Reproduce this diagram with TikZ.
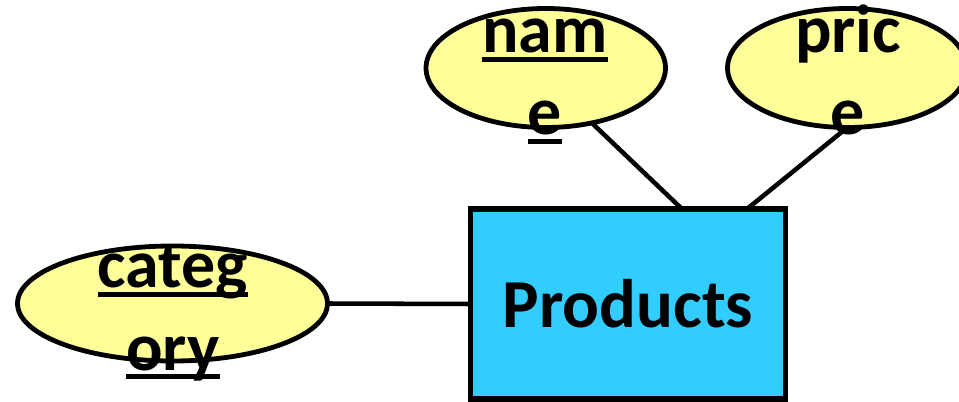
\documentclass[tikz,border=0pt]{standalone}
\usepackage{fontspec}
\setmainfont{Carlito}
\usetikzlibrary{shapes.geometric}
\definecolor{attrfill}{HTML}{FFFF99}
\definecolor{entfill}{HTML}{33CCFF}
% thick underline used for key attributes
\newsavebox\keybox
\newcommand\keyul[1]{\sbox\keybox{#1}\rlap{\rule[-7pt]{\wd\keybox}{4.2pt}}\usebox\keybox}
\begin{document}
\begin{tikzpicture}[x=0.75pt,y=-0.75pt,
  attr/.style={ellipse, draw, line width=3.6pt, fill=attrfill, inner sep=0pt, outer sep=0pt,
    minimum width=179.6pt, minimum height=89.25pt},
  entity/.style={rectangle, draw, line width=4pt, fill=entfill, inner sep=0pt, outer sep=0pt,
    minimum width=236.25pt, minimum height=142.5pt, font=\fontsize{51.5}{62}\selectfont\bfseries},
  lbl/.style={anchor=base, inner sep=0pt, font=\fontsize{51}{61}\selectfont\bfseries},
  link/.style={line width=3.4pt}]
\useasboundingbox (0,0) rectangle (959,402);
\clip (0,0) rectangle (959,402);

% entity
\node[entity] (prod) at (628,304) {Products};

% attributes
\node[attr] (name) at (545.75,68) {};
\node[attr] (price) at (847.25,68) {};
\node[attr, minimum width=232.5pt, minimum height=86.25pt] (cat) at (172.5,303.5) {};

% attachment points on the entity's top edge
\coordinate (pn) at (682,209);
\coordinate (pp) at (747,209);

% connectors
\draw[link] (name.-50) -- (pn);
\draw[link] (price.south) -- (pp);
\draw[link] (cat.east) -- (prod.west);

% attribute labels (wrapped over two lines)
\node[lbl] (nameA) at (545,53) {\keyul{nam}};
\node[lbl] (nameB) at (545,135) {\keyul{e}};
\node[lbl] (priceA) at (848,53) {pric};
\node[lbl] (priceB) at (848,135) {e};
\node[lbl] (catA) at (173,288) {\keyul{categ}};
\node[lbl] (catB) at (173,370) {\keyul{ory}};
\end{tikzpicture}
\end{document}
